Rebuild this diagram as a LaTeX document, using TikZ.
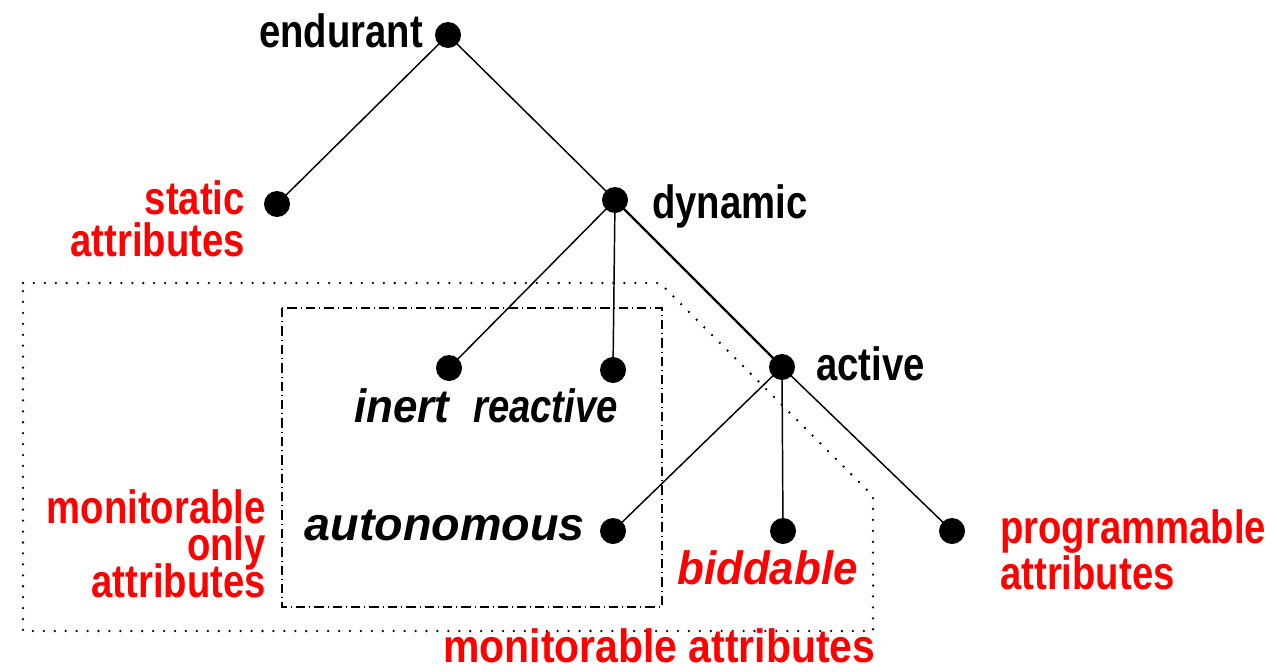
\documentclass[tikz,border=0pt]{standalone}
\usepackage{fontspec}
\newfontfamily\labfont{Liberation Sans}[FakeStretch=0.82]
\newfontfamily\labwide{Liberation Sans}
\newfontfamily\labmid{Liberation Sans}[FakeStretch=0.94]
\newfontfamily\labbot{Liberation Sans}[FakeStretch=0.877]
\definecolor{lred}{RGB}{255,0,0}
\begin{document}
\begin{tikzpicture}[x=0.75pt,y=-0.75pt,
  dot/.style={circle,fill=black,inner sep=0pt,minimum size=19.5pt},
  lab/.style={inner sep=0pt,font=\labfont\fontsize{35}{35}\selectfont\bfseries},
  ilab/.style={inner sep=0pt,font=\labwide\fontsize{35}{35}\selectfont\bfseries\itshape},
  redlab/.style={lab,text=lred},
  edge/.style={line width=1.1pt},
  dotbox/.style={line width=1.9pt,line cap=round,dash pattern=on 0pt off 8.2pt},
  dashdotbox/.style={line width=0.8pt,dash pattern=on 7pt off 3pt on 0.8pt off 3pt}]
\useasboundingbox (0,0) rectangle (1277,671);
% boxes
\draw[dotbox] (23,283) -- (660,283) -- (873,496) -- (873,631) -- (23,631) -- cycle;
\draw[dashdotbox] (282,308) rectangle (662,607);
% dots
\node[dot] (end) at (448,35) {};
\node[dot] (sta) at (277,204) {};
\node[dot] (dyn) at (615,200) {};
\node[dot] (ine) at (449,368) {};
\node[dot] (rea) at (613,370) {};
\node[dot] (act) at (782,367) {};
\node[dot] (aut) at (613,531) {};
\node[dot] (bid) at (783,531) {};
\node[dot] (pro) at (952,531) {};
% edges
\draw[edge] (end.center) -- (sta.center);
\draw[edge] (end.center) -- (dyn.center);
\draw[edge] (dyn.center) -- (ine.center);
\draw[edge] (dyn.center) -- (rea.center);
\draw[line width=1.8pt] (dyn.center) -- (act.center);
\draw[edge] (act.center) -- (pro.center);
\draw[edge] (act.center) -- (aut.center);
\draw[edge] (act.center) -- (bid.center);
% labels
\node[lab,anchor=base east] (lend) at (423,47) {endurant};
\node[redlab,anchor=base east] (lsta1) at (245,214) {static};
\node[redlab,anchor=base east] (lsta2) at (245,256) {attributes};
\node[lab,anchor=base west] (ldyn) at (652,218) {dynamic};
\node[lab,anchor=base west] (lact) at (816,380) {active};
\node[ilab,anchor=base west,font=\labmid\fontsize{35}{35}\selectfont\bfseries\itshape] (line) at (354,422) {inert};
\node[ilab,anchor=base west,font=\labfont\fontsize{35}{35}\selectfont\bfseries\itshape] (lrea) at (473,422) {reactive};
\node[ilab,anchor=base east] (laut) at (585,540) {autonomous};
\node[ilab,text=lred,anchor=base east,font=\labmid\fontsize{35}{35}\selectfont\bfseries\itshape] (lbid) at (858,584) {biddable};
\node[redlab,anchor=base west] (lpro1) at (1000,543) {programmable};
\node[redlab,anchor=base west] (lpro2) at (1000,589) {attributes};
\node[redlab,anchor=base east] (lmon1) at (266,523) {monitorable};
\node[redlab,anchor=base east] (lmon2) at (266,560) {only};
\node[redlab,anchor=base east] (lmon3) at (266,597) {attributes};
\node[redlab,anchor=base west,font=\labbot\fontsize{35}{35}\selectfont\bfseries] (lmat) at (443,662) {monitorable attributes};
\end{tikzpicture}
\end{document}
